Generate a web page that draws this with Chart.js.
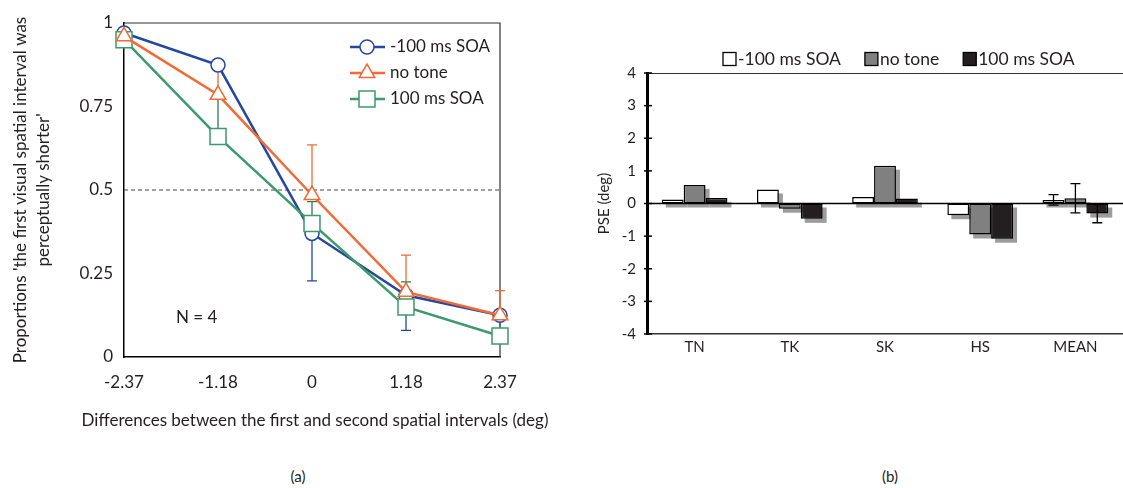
<!DOCTYPE html>
<html lang="en">
<head>
<meta charset="UTF-8">
<title>Spatial interval judgements and PSE</title>
<script src="https://cdn.jsdelivr.net/npm/chart.js"></script>
<style>
  html,body{width:1123px;height:488px;margin:0;padding:0;overflow:hidden;background:#fff}
  #wrapA{position:absolute;left:0;top:0;width:570px;height:440px}
  #wrapB{position:absolute;left:570px;top:0;width:553px;height:440px}
  .cap{position:absolute;top:467px;width:60px;text-align:center;font:15px Lato,sans-serif;color:#231f20}
</style>
</head>
<body>
<div id="wrapA"><canvas id="chartA"></canvas></div>
<div id="wrapB"><canvas id="chartB"></canvas></div>
<div class="cap" style="left:268px">(a)</div>
<div class="cap" style="left:860px">(b)</div>
<script>
/* ---------- data (a) ---------- */
const diffLabels=['-2.37','-1.18','0','1.18','2.37'];
const yTicksA=[0,0.25,0.5,0.75,1];
const neg100=[0.97,0.874,0.37,0.185,0.125];
const noTone=[0.96,0.785,0.485,0.195,0.125];
const pos100=[0.95,0.66,0.40,0.15,0.063];
const neg100Err=[0,0,0.142,0.105,0];   // drawn downward
const noToneErr=[0,0.075,0.15,0.11,0.074]; // drawn upward
const pos100Err=[0,0.12,0.065,0.075,0.06]; // drawn upward
const chanceLevel=0.5;
const noteA='N = 4';
const xTitleA='Differences between the first and second spatial intervals (deg)';

/* ---------- data (b) ---------- */
const subjects=['TN','TK','SK','HS','MEAN'];
const yTicksB=[-4,-3,-2,-1,0,1,2,3,4];
const pseNeg100=[0.12,0.43,0.2,-0.36,0.11];
const pseNoTone=[0.57,-0.16,1.16,-0.95,0.16];
const psePos100=[0.17,-0.47,0.15,-1.08,-0.31];
const pseErrNeg100=[0,0,0,0,0.16];
const pseErrNoTone=[0,0,0,0,0.45];
const pseErrPos100=[0,0,0,0,0.28];

const ink='#231f20';
const BLUE='#2447a0',ORANGE='#f26a35',GREEN='#3c9a6b';
const FONT='Lato';

/* ---------- plugins (a) ---------- */
const errSetsA=[{err:neg100Err,dir:-1,color:BLUE},{err:noToneErr,dir:1,color:ORANGE},{err:pos100Err,dir:1,color:'#2e7d4f'}];
const underA={id:'underA',beforeDatasetsDraw(c){
  const ctx=c.ctx,ys=c.scales.y,a=c.chartArea;
  ctx.save();
  // box top/right
  ctx.strokeStyle='#333';ctx.lineWidth=1.2;
  ctx.beginPath();ctx.moveTo(a.left,a.top);ctx.lineTo(a.right,a.top);ctx.lineTo(a.right,a.bottom);ctx.stroke();
  // chance line
  const yc=ys.getPixelForValue(chanceLevel);
  ctx.setLineDash([4,3]);ctx.strokeStyle='#444';ctx.lineWidth=1.2;
  ctx.beginPath();ctx.moveTo(a.left,yc);ctx.lineTo(a.right,yc);ctx.stroke();
  ctx.setLineDash([]);
  // error bars
  ctx.lineWidth=1.3;
  errSetsA.forEach((s,i)=>{
    const meta=c.getDatasetMeta(i),vals=c.data.datasets[i].data;
    ctx.strokeStyle=s.color;
    s.err.forEach((e,j)=>{
      if(!e)return;
      const x=meta.data[j].x,y0=ys.getPixelForValue(vals[j]),y1=ys.getPixelForValue(vals[j]+s.dir*e);
      ctx.beginPath();ctx.moveTo(x,y0);ctx.lineTo(x,y1);ctx.moveTo(x-5,y1);ctx.lineTo(x+5,y1);ctx.stroke();
    });
  });
  ctx.restore();
}};
const legendA={id:'legendA',afterDraw(c){
  const ctx=c.ctx,a=c.chartArea;ctx.save();
  ctx.font='17px '+FONT;ctx.textBaseline='middle';
  let y=47;
  c.data.datasets.forEach(d=>{
    ctx.strokeStyle=d.borderColor;ctx.lineWidth=2.5;
    ctx.beginPath();ctx.moveTo(350,y);ctx.lineTo(385,y);ctx.stroke();
    ctx.fillStyle='#fff';ctx.lineWidth=1.5;
    Chart.helpers.drawPoint(ctx,{pointStyle:d.pointStyle,radius:d.pointRadius,borderWidth:1.5,rotation:0},367,y);
    ctx.fillStyle=ink;ctx.fillText(d.label,390,y);
    y+=26;
  });
  ctx.fillText(noteA,176,318);
  // x axis title (drawn here so it is not squeezed to the axis width)
  ctx.textAlign='center';
  ctx.fillText(xTitleA,(a.left+a.right)/2+3,421);
  ctx.restore();
}};

new Chart(document.getElementById('chartA'),{
  type:'line',
  data:{labels:diffLabels,datasets:[
    {label:'-100 ms SOA',data:neg100,borderColor:BLUE,pointBorderColor:BLUE,pointStyle:'circle',pointRadius:7,order:3},
    {label:'no tone',data:noTone,borderColor:ORANGE,pointBorderColor:ORANGE,pointStyle:'triangle',pointRadius:9,order:1},
    {label:'100 ms SOA',data:pos100,borderColor:GREEN,pointBorderColor:GREEN,pointStyle:'rect',pointRadius:11.3,order:2}
  ].map(d=>Object.assign({borderWidth:2.5,pointBackgroundColor:'#fff',pointBorderWidth:1.5,tension:0,clip:false},d))},
  options:{
    responsive:true,maintainAspectRatio:false,animation:false,
    layout:{padding:{left:0,right:70,top:23,bottom:0}},
    plugins:{legend:{display:false},tooltip:{enabled:false}},
    scales:{
      x:{type:'category',offset:false,
        grid:{display:false,drawTicks:false},border:{color:'#000',width:1.5},
        ticks:{color:ink,font:{family:FONT,size:17},padding:15,maxRotation:0},
        afterFit(s){s.height=83;}},
      y:{min:0,max:1,
        afterBuildTicks(s){s.ticks=yTicksA.map(v=>({value:v}));},
        grid:{display:false,drawTicks:false},border:{color:'#000',width:1.5},
        ticks:{color:ink,font:{family:FONT,size:17},padding:11,callback:v=>String(v)},
        title:{display:true,text:["Proportions 'the first visual spatial interval was","perceptually shorter'"],color:ink,font:{family:FONT,size:17,lineHeight:1.35},padding:{top:9,bottom:0}},
        afterFit(s){s.width=124;}}
    }
  },
  plugins:[underA,legendA]
});

/* ---------- plugins (b) ---------- */
const errSetsB=[pseErrNeg100,pseErrNoTone,pseErrPos100];
// drop shadows for every bar, painted before any bar so bars sit on top
const shadowB={id:'shadowB',beforeDatasetsDraw(c){
  const ctx=c.ctx;ctx.save();ctx.fillStyle='#9c9c9c';
  c.data.datasets.forEach((d,i)=>{
    c.getDatasetMeta(i).data.forEach(b=>{
      const top=Math.min(b.y,b.base),h=Math.abs(b.base-b.y);
      ctx.fillRect(b.x-b.width/2+4,top+4,b.width,h);
    });
  });
  ctx.restore();
}};
const frameB={id:'frameB',afterDatasetsDraw(c){
  const ctx=c.ctx,ys=c.scales.y,a=c.chartArea;
  ctx.save();
  ctx.strokeStyle='#333';ctx.lineWidth=1;
  ctx.beginPath();ctx.moveTo(a.left,a.top+0.5);ctx.lineTo(a.right,a.top+0.5);ctx.stroke();
  const y0=ys.getPixelForValue(0);
  ctx.strokeStyle='#000';ctx.lineWidth=1.5;
  ctx.beginPath();ctx.moveTo(a.left,y0);ctx.lineTo(a.right,y0);ctx.stroke();
  // inward ticks
  ys.ticks.forEach(t=>{const y=ys.getPixelForValue(t.value);ctx.beginPath();ctx.moveTo(a.left-3,y);ctx.lineTo(a.left+5,y);ctx.stroke();});
  // error bars
  ctx.lineWidth=1.3;
  errSetsB.forEach((errs,i)=>{
    const meta=c.getDatasetMeta(i),vals=c.data.datasets[i].data;
    errs.forEach((e,j)=>{
      if(!e)return;
      const x=meta.data[j].x,yt=ys.getPixelForValue(vals[j]+e),yb=ys.getPixelForValue(vals[j]-e);
      ctx.beginPath();ctx.moveTo(x,yt);ctx.lineTo(x,yb);
      ctx.moveTo(x-5,yt);ctx.lineTo(x+5,yt);ctx.moveTo(x-5,yb);ctx.lineTo(x+5,yb);ctx.stroke();
    });
  });
  ctx.restore();
}};
const legendB={id:'legendB',afterDraw(c){
  const ctx=c.ctx;ctx.save();
  ctx.font='17.5px '+FONT;ctx.textBaseline='middle';
  let x=153;const y=59;
  c.data.datasets.forEach(d=>{
    ctx.fillStyle=d.backgroundColor;ctx.fillRect(x,y-6.5,13,13);
    ctx.strokeStyle='#000';ctx.lineWidth=1.3;ctx.strokeRect(x,y-6.5,13,13);
    ctx.fillStyle=ink;ctx.fillText(d.label,x+15,y);
    x+=15+ctx.measureText(d.label).width+24;
  });
  ctx.restore();
}};

new Chart(document.getElementById('chartB'),{
  type:'bar',
  data:{labels:subjects,datasets:[
    {label:'-100 ms SOA',data:pseNeg100,backgroundColor:'#ffffff'},
    {label:'no tone',data:pseNoTone,backgroundColor:'#808080'},
    {label:'100 ms SOA',data:psePos100,backgroundColor:'#231f20'}
  ].map(d=>Object.assign({borderColor:'#000',borderWidth:1.5,borderSkipped:false,barPercentage:1,categoryPercentage:0.69},d))},
  options:{
    responsive:true,maintainAspectRatio:false,animation:false,
    layout:{padding:{left:0,right:0,top:73,bottom:0}},
    plugins:{legend:{display:false},tooltip:{enabled:false}},
    scales:{
      x:{grid:{display:false,drawTicks:false},border:{color:'#333',width:1.5},
        ticks:{color:ink,font:{family:FONT,size:15},padding:4},
        afterFit(s){s.height=106;}},
      y:{min:-4,max:4,
        afterBuildTicks(s){s.ticks=yTicksB.map(v=>({value:v}));},
        grid:{display:false,drawTicks:false},border:{color:'#000',width:3},
        ticks:{color:ink,font:{family:FONT,size:15},padding:11,callback:v=>String(v)},
        title:{display:true,text:'PSE (deg)',color:ink,font:{family:FONT,size:15},padding:{top:25,bottom:0}},
        afterFit(s){s.width=77;}}
    }
  },
  plugins:[shadowB,frameB,legendB]
});
</script>
</body>
</html>
